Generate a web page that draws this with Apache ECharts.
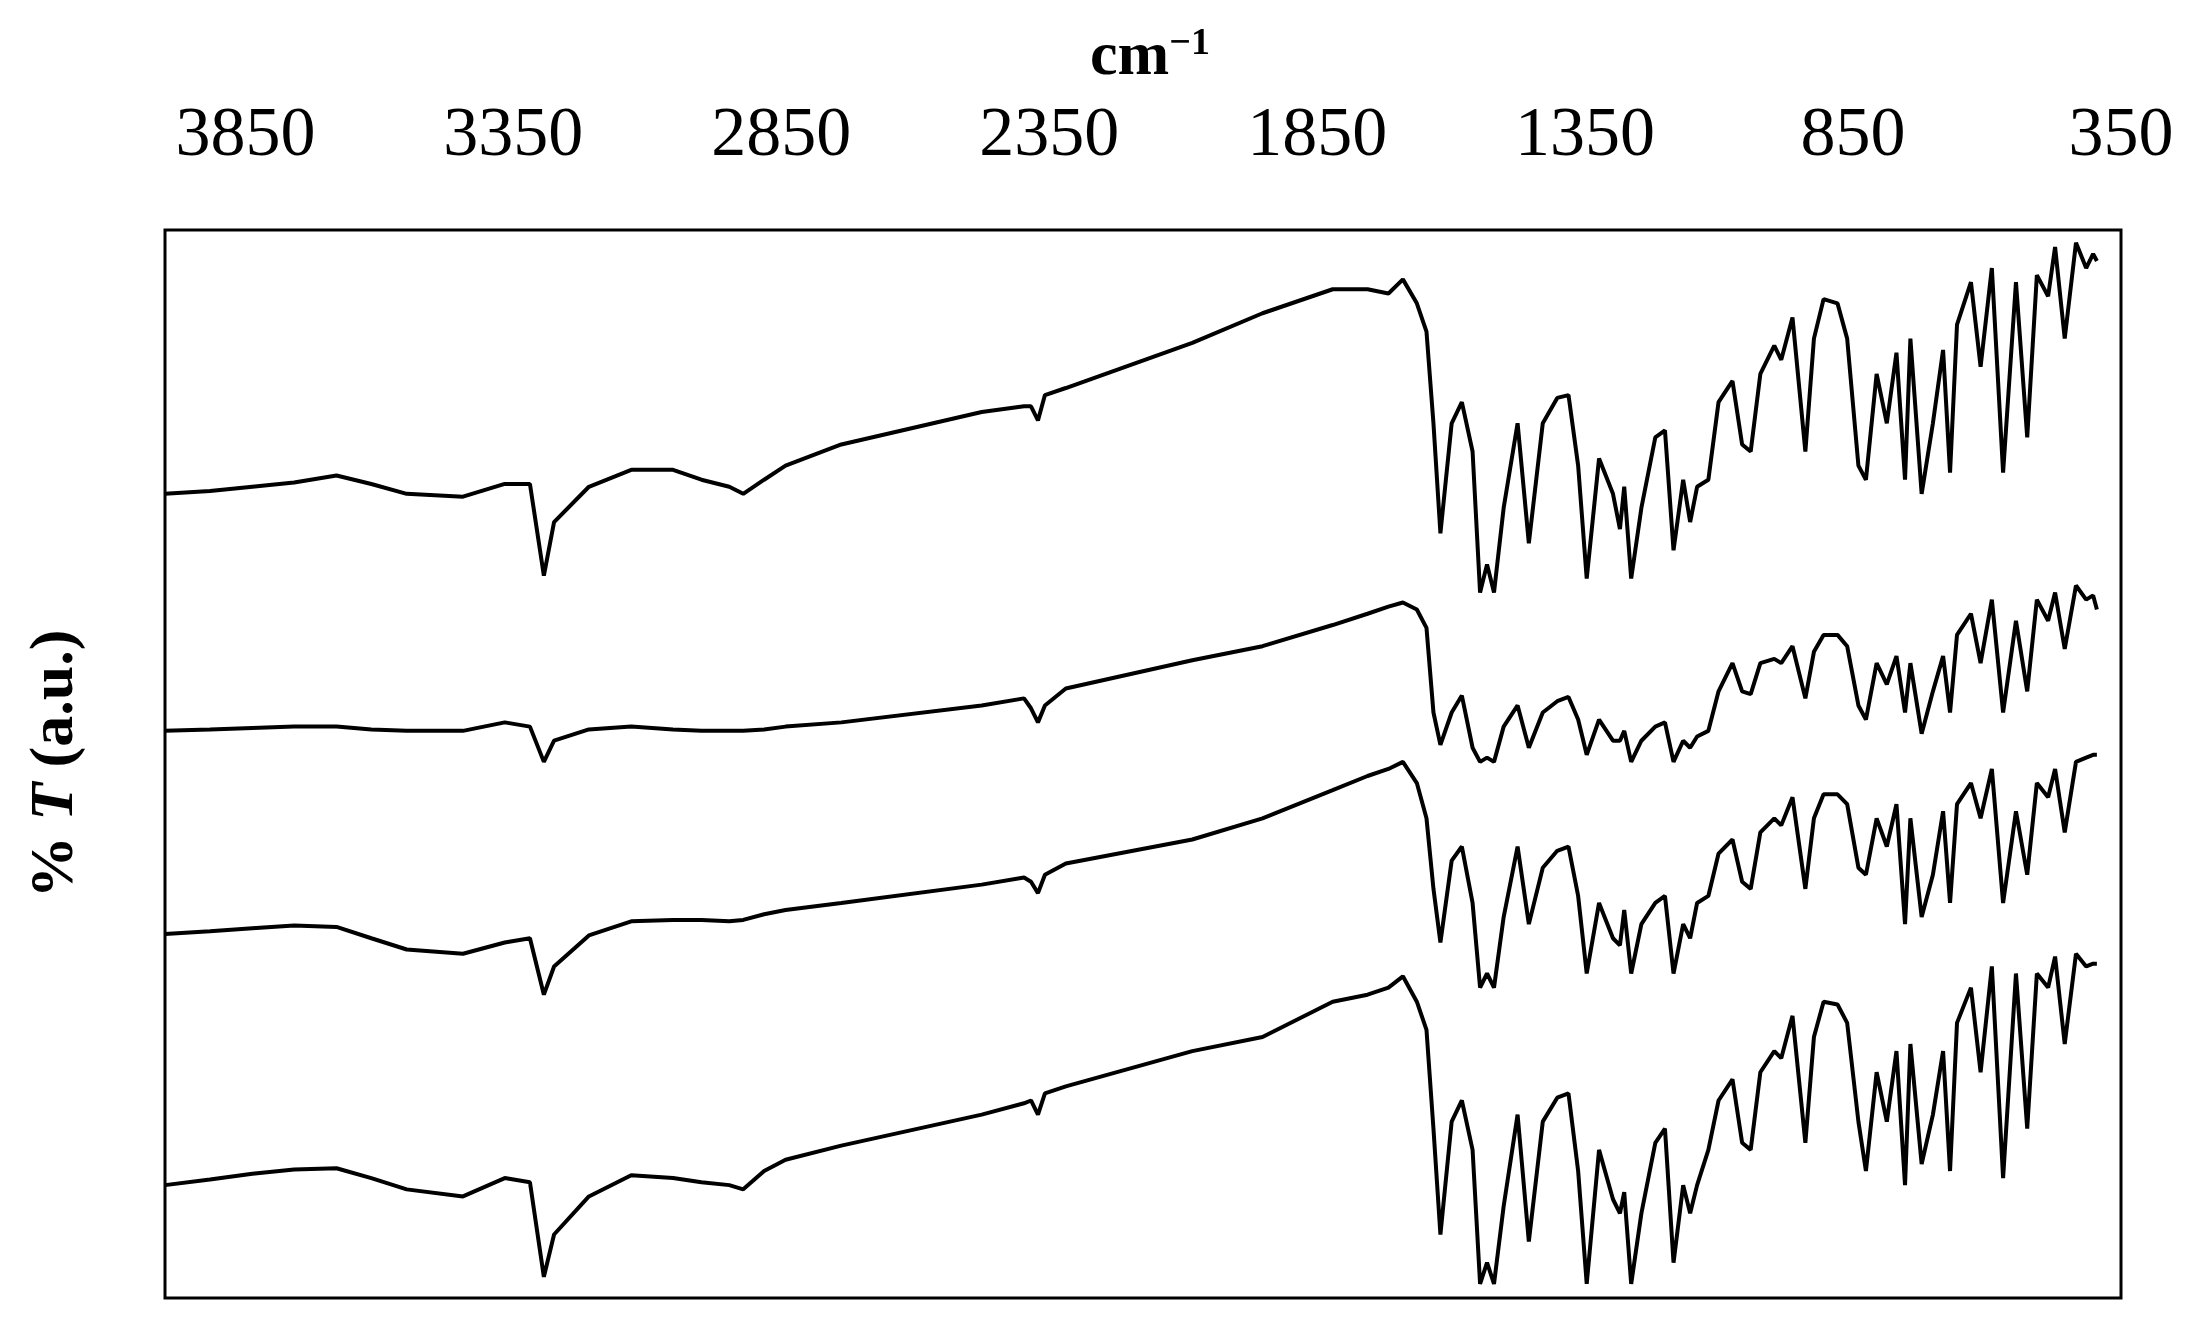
<!DOCTYPE html>
<html>
<head>
<meta charset="utf-8">
<script src="https://cdn.jsdelivr.net/npm/echarts@6/dist/echarts.min.js"></script>
<style>html,body{margin:0;padding:0;background:#fff}#chart{width:2199px;height:1328px}</style>
</head>
<body>
<div id="chart"></div>
<script>
// wavenumber grid (cm-1), shared by all four spectra
var wavenumbers = [4000,3916,3837,3759,3680,3615,3549,3444,3366,3319,3293,3274,3209,3130,3052,2999,2947,2921,2882,2842,2738,2476,2397,2384,2371,2358,2319,2083,1952,1821,1756,1717,1690,1664,1646,1633,1620,1599,1580,1560,1546,1533,1520,1502,1476,1455,1429,1402,1381,1363,1347,1324,1298,1285,1277,1264,1245,1219,1201,1185,1167,1154,1141,1120,1101,1075,1057,1041,1023,997,984,963,939,923,905,879,861,840,826,806,787,769,753,743,722,701,682,669,656,630,612,591,570,546,525,507,486,473,455,434,415,402,395];

// %T in a.u. (axis drawn inverted: smaller = higher on the plot)
var spectrum1 = [350,348,345,342,337,343,350,352,343,343,408,370,345,333,333,340,345,350,340,330,315,292,288,288,298,280,275,243,222,205,205,208,198,215,235,300,378,300,285,320,420,400,420,360,300,385,300,282,280,330,410,325,350,375,345,410,360,310,305,390,340,370,345,340,285,270,315,320,265,245,255,225,320,240,212,215,240,330,340,265,300,250,340,240,350,300,248,335,230,200,260,190,335,200,310,195,210,175,240,172,190,180,185];
var spectrum2 = [518,517,516,515,515,517,518,518,512,515,540,525,517,515,517,518,518,518,517,515,512,500,495,502,512,500,488,468,458,443,435,430,427,432,445,505,528,505,493,530,540,537,540,515,500,530,505,497,494,510,535,510,525,525,518,540,525,515,512,540,525,530,522,518,490,470,490,492,470,467,470,458,495,462,450,450,458,500,510,470,485,465,505,470,520,490,465,505,450,435,470,425,505,440,490,425,440,420,460,415,425,422,432];
var spectrum3 = [662,660,658,656,657,665,673,676,668,665,705,685,663,653,652,652,653,652,648,645,640,627,622,625,633,620,612,595,580,560,550,545,540,555,580,630,668,610,600,640,700,690,700,650,600,655,615,603,600,635,690,640,665,670,645,690,655,640,635,690,655,665,640,635,605,595,625,630,590,580,585,565,630,580,563,563,570,615,620,580,600,570,655,580,650,620,575,640,570,555,580,545,640,575,620,555,565,545,590,540,537,535,535];
var spectrum4 = [840,836,832,829,828,835,843,848,835,838,905,875,848,833,835,838,840,843,830,822,812,790,782,780,790,775,770,745,735,710,705,700,692,710,730,800,875,795,780,815,910,895,910,855,790,880,795,778,775,830,910,815,850,860,845,910,860,810,800,895,840,860,840,815,780,765,810,815,760,745,750,720,810,735,710,712,725,795,830,760,795,745,840,740,825,790,745,830,725,700,760,685,835,690,800,690,700,678,740,676,685,683,683];

var xTicks = [3850,3350,2850,2350,1850,1350,850,350];

function pairs(ys) {
    return wavenumbers.map(function (w, i) { return [w, ys[i]]; });
}

var lineStyle = { color: '#000', width: 4 };
var series = [spectrum1, spectrum2, spectrum3, spectrum4].map(function (ys) {
    return { type: 'line', data: pairs(ys), showSymbol: false, lineStyle: lineStyle, animation: false };
});

var serif = 'Liberation Serif';
var chart = echarts.init(document.getElementById('chart'));
chart.setOption({
    backgroundColor: '#fff',
    title: {
        text: '{m|cm}{s|\u22121}', left: 1145, top: 20, textAlign: 'center',
        textStyle: {
            rich: {
                m: { fontFamily: serif, fontWeight: 'bold', fontSize: 62, color: '#000' },
                s: { fontFamily: serif, fontWeight: 'bold', fontSize: 38, color: '#000', verticalAlign: 'top', padding: [0, 0, 28, 0] }
            }
        }
    },
    grid: { left: 165, right: 78, top: 230, bottom: 30, show: true, borderColor: '#000', borderWidth: 3 },
    xAxis: {
        type: 'value', position: 'top', inverse: true, min: 350, max: 4000, interval: 500,
        axisLine: { show: false }, axisTick: { show: false }, splitLine: { show: false },
        axisLabel: {
            margin: 58, fontFamily: serif, fontSize: 70, color: '#000',
            showMinLabel: true, showMaxLabel: true, hideOverlap: false,
            customValues: xTicks,
            formatter: function (v) { return String(v); }
        }
    },
    yAxis: {
        type: 'value', inverse: true, min: 163, max: 920,
        axisLine: { show: false }, axisTick: { show: false }, axisLabel: { show: false }, splitLine: { show: false },
        name: '{a|% }{b|T}{a| (a.u.)}', nameLocation: 'middle', nameGap: 78, nameRotate: 90,
        nameTextStyle: {
            rich: {
                a: { fontFamily: serif, fontWeight: 'bold', fontSize: 62, color: '#000' },
                b: { fontFamily: serif, fontWeight: 'bold', fontStyle: 'italic', fontSize: 62, color: '#000' }
            }
        }
    },
    series: series
});
</script>
</body>
</html>
